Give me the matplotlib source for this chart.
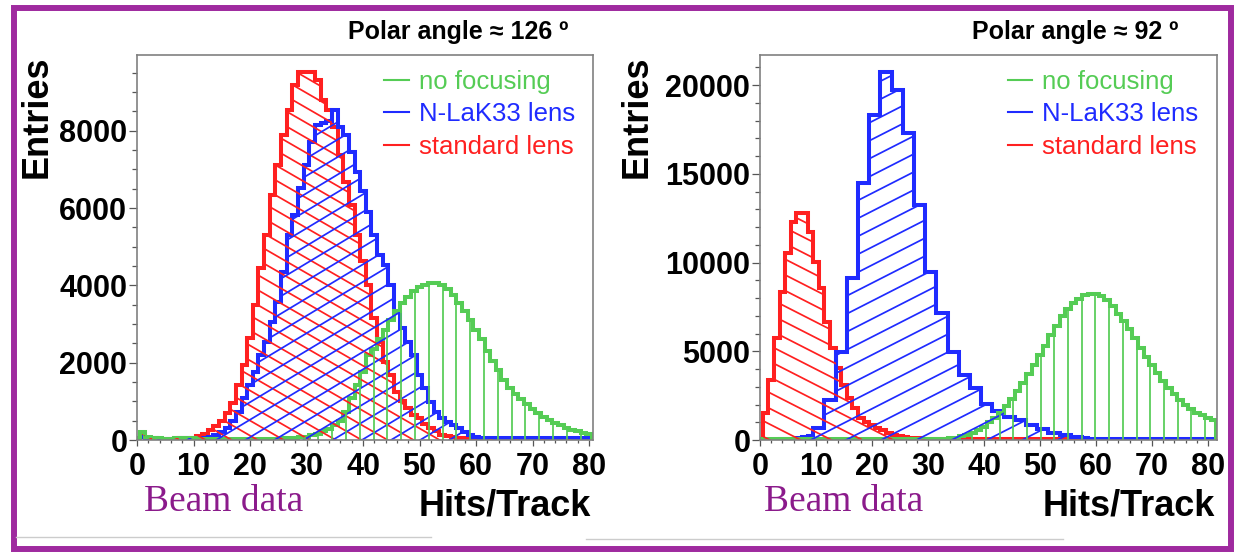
import numpy as np
import matplotlib
matplotlib.use("Agg")
import matplotlib.pyplot as plt
from matplotlib.patches import Polygon, Rectangle
from matplotlib.collections import LineCollection
from matplotlib.lines import Line2D
from matplotlib.ticker import MultipleLocator
from matplotlib.transforms import IdentityTransform

# bin contents, one bin per hit count (bin k covers k-0.5 .. k+0.5)
left_standard = [40, 120, 60, 40, 30, 30, 30, 40, 50, 50,
                 60, 100, 150, 250, 350, 480, 700, 950, 1420, 1950,
                 2630, 3490, 4440, 5300, 6340, 7110, 7890, 8540, 9180, 9530,
                 9530, 9530, 9310, 8800, 8540, 8100, 7370, 6680, 6080, 5300,
                 4620, 4010, 3150, 2540, 2030, 1680, 1250, 1000, 820, 650,
                 560, 420, 300, 220, 130, 100, 70, 50, 40, 30] + [20] * 21
left_nlak33 = [60, 90, 50, 40, 30, 30, 30, 30, 40, 40,
               40, 50, 60, 90, 130, 200, 300, 480, 730, 1080,
               1420, 1770, 2200, 2540, 3060, 3580, 4350, 5300, 5820, 6510,
               7110, 7720, 8150, 8200, 8240, 8540, 8100, 7890, 7460, 6940,
               6430, 5910, 5300, 4790, 4530, 4010, 3320, 2890, 2540, 2200,
               1680, 1340, 990, 730, 560, 470, 380, 300, 200, 130,
               90] + [50] * 20
left_nofocus = [60, 200, 80, 50, 40, 30, 30, 40, 60, 50,
                40, 30, 30, 30, 30, 30, 30, 30, 30, 30,
                30, 30, 30, 30, 30, 30, 40, 50, 60, 70,
                90, 120, 160, 220, 290, 380, 500, 730, 1080, 1420,
                1770, 2200, 2350, 2600, 2850, 3100, 3330, 3550, 3700, 3850,
                3950, 4010, 4050, 4050, 4000, 3900, 3750, 3550, 3350, 3100,
                2850, 2600, 2300, 2050, 1800, 1550, 1350, 1200, 1050, 920,
                800, 700, 600, 510, 440, 380, 320, 270, 220, 180,
                150]

right_standard = [0, 1520, 3400, 5730, 8360, 10520, 12300, 12780, 12780, 11740,
                  10050, 8550, 6670, 5170, 4040, 3100, 2350, 1790, 1220, 1000,
                  845, 650, 560, 400, 280, 220, 160, 130, 100, 80,
                  70, 60] + [40] * 27 + [0] * 23
right_nlak33 = [0, 0, 10, 20, 30, 40, 60, 100, 190, 250,
                660, 660, 2250, 2250, 4980, 4980, 9110, 9110, 14470, 14470,
                18320, 18320, 20760, 20760, 19730, 19730, 17290, 17290, 13250, 13250,
                9490, 9490, 7140, 7140, 4980, 4980, 3660, 3660, 2910, 2910,
                2050, 2050, 1650, 1650, 1300, 1300, 1100, 1100, 850, 850,
                600, 600, 380, 380, 280, 280, 150, 150, 90, 60] + [30] * 22
right_nofocus = [30] * 31 + [40, 50, 70, 100, 140, 200, 280, 400, 560,
                 750, 1000, 1250, 1550, 1900, 2300, 2750, 3200, 3700, 4200,
                 4800, 5300, 5900, 6400, 7000, 7400, 7750, 7950, 8150, 8250,
                 8250, 8100, 7900, 7550, 7100, 6700, 6250, 5750, 5200, 4700,
                 4250, 3800, 3350, 2950, 2600, 2250, 2000, 1750, 1550, 1400,
                 1250, 1150]

labels = ["no focusing", "N-LaK33 lens", "standard lens"]
titles = ["Polar angle \u2248 126 \u00ba", "Polar angle \u2248 92 \u00ba"]

GREEN = "#55cc55"
BLUE = "#1f2bff"
RED = "#ff2020"
PURPLE = "#9f2a9f"
W, H = 1236, 554


def hatch(ax, vals, color, angle, spacing):
    """Fill a histogram with ROOT-like hatch lines (angle in screen degrees)."""
    edges = np.arange(len(vals) + 1) - 0.5
    verts = [(edges[0], 0)]
    for i, v in enumerate(vals):
        verts += [(edges[i], v), (edges[i + 1], v)]
    verts.append((edges[-1], 0))
    clip = Polygon(verts, closed=True, facecolor="none", edgecolor="none")
    ax.add_patch(clip)

    bb = ax.bbox
    th = np.radians(angle)
    d = np.array([np.cos(th), np.sin(th)])
    n = np.array([-np.sin(th), np.cos(th)])
    c0 = np.array([bb.x0 + bb.width / 2, bb.y0 + bb.height / 2])
    L = np.hypot(bb.width, bb.height)
    segs = []
    for c in np.arange(-L / 2, L / 2, spacing):
        p = c0 + c * n
        segs.append([p - L * d, p + L * d])
    lc = LineCollection(segs, colors=color, linewidths=1.25,
                        transform=IdentityTransform())
    lc.set_clip_path(clip)
    lc.set_clip_box(ax.bbox)
    ax.add_collection(lc, autolim=False)

    ax.stairs(vals, edges, color=color, lw=2.9, joinstyle="miter")


def panel(rect, xmax, ymax, data, styles, ymajor, yminor):
    ax = fig.add_axes(rect)
    ax.set_xlim(0, xmax)
    ax.set_ylim(0, ymax)
    for vals, (color, angle, spacing) in zip(data, styles):
        hatch(ax, vals, color, angle, spacing)

    ax.xaxis.set_major_locator(MultipleLocator(10))
    ax.xaxis.set_minor_locator(MultipleLocator(2))
    ax.yaxis.set_major_locator(MultipleLocator(ymajor))
    ax.yaxis.set_minor_locator(MultipleLocator(yminor))
    ax.tick_params(axis="both", which="both", direction="out",
                   color="#555555", width=0.9, labelsize=22)
    ax.tick_params(axis="y", which="major", length=6, pad=1)
    ax.tick_params(axis="y", which="minor", length=3.3)
    ax.tick_params(axis="x", which="major", length=4.5, pad=4)
    ax.tick_params(axis="x", which="minor", length=2.5)
    for lab in ax.get_xticklabels() + ax.get_yticklabels():
        lab.set_fontweight("bold")
    for sp in ax.spines.values():
        sp.set_color("#808080")
        sp.set_linewidth(1.2)

    handles = [Line2D([], [], color=c, lw=1.5) for c in (GREEN, BLUE, RED)]
    ax.legend(handles, labels, loc="upper left", bbox_to_anchor=(0.542, 0.962),
              frameon=False, fontsize=18.5, labelcolor="linecolor",
              handlelength=0.95, handletextpad=0.4, labelspacing=0.33,
              borderpad=0, borderaxespad=0)
    return ax


plt.rcParams["font.family"] = ["Liberation Sans", "DejaVu Sans"]
fig = plt.figure(figsize=(W / 100, H / 100), dpi=100)

# left: polar angle 126, right: polar angle 92
left_rect = [137 / W, 114 / H, 456 / W, 385 / H]
right_rect = [760 / W, 114 / H, 457 / W, 385 / H]

panel(left_rect, 80.7, 9960,
      [left_standard, left_nlak33, left_nofocus],
      [(RED, -30, 13), (BLUE, 31, 15), (GREEN, 90, 13.8)], 2000, 500)
panel(right_rect, 81.6, 21700,
      [right_standard, right_nlak33, right_nofocus],
      [(RED, -27, 14), (BLUE, 27, 16), (GREEN, 90, 13.7)], 5000, 1000)

# texts around the two pads
for x_title, x_ent, x_hits, x_beam, title in [(458, 37, 591, 144, titles[0]),
                                              (1075, 637, 1215, 764, titles[1])]:
    fig.text(x_title / W, 1 - 32 / H, title, ha="center", va="center",
             fontsize=18, fontweight="bold")
    fig.text(x_ent / W, 1 - 55 / H, "Entries", rotation=90, ha="center", va="top",
             fontsize=26, fontweight="bold")
    fig.text(x_hits / W, 1 - 515 / H, "Hits/Track", ha="right", va="baseline",
             fontsize=26, fontweight="bold")
    fig.text(x_beam / W, 1 - 511 / H, "Beam data", ha="left", va="baseline",
             fontsize=27, family="Liberation Serif", color="#8b1b8b")

# faint edges of the pasted images and the purple frame
fig.add_artist(Line2D([16 / W, 431 / W], [1 - 537 / H] * 2, color="#cccccc", lw=1))
fig.add_artist(Line2D([586 / W, 1063 / W], [1 - 539 / H] * 2, color="#cccccc", lw=1))
fig.add_artist(Rectangle((13.5 / W, 1 - 549 / H), 1217 / W, 541.5 / H,
                         fill=False, edgecolor=PURPLE, lw=4.3,
                         transform=fig.transFigure))

fig.savefig("out.png", dpi=100)
